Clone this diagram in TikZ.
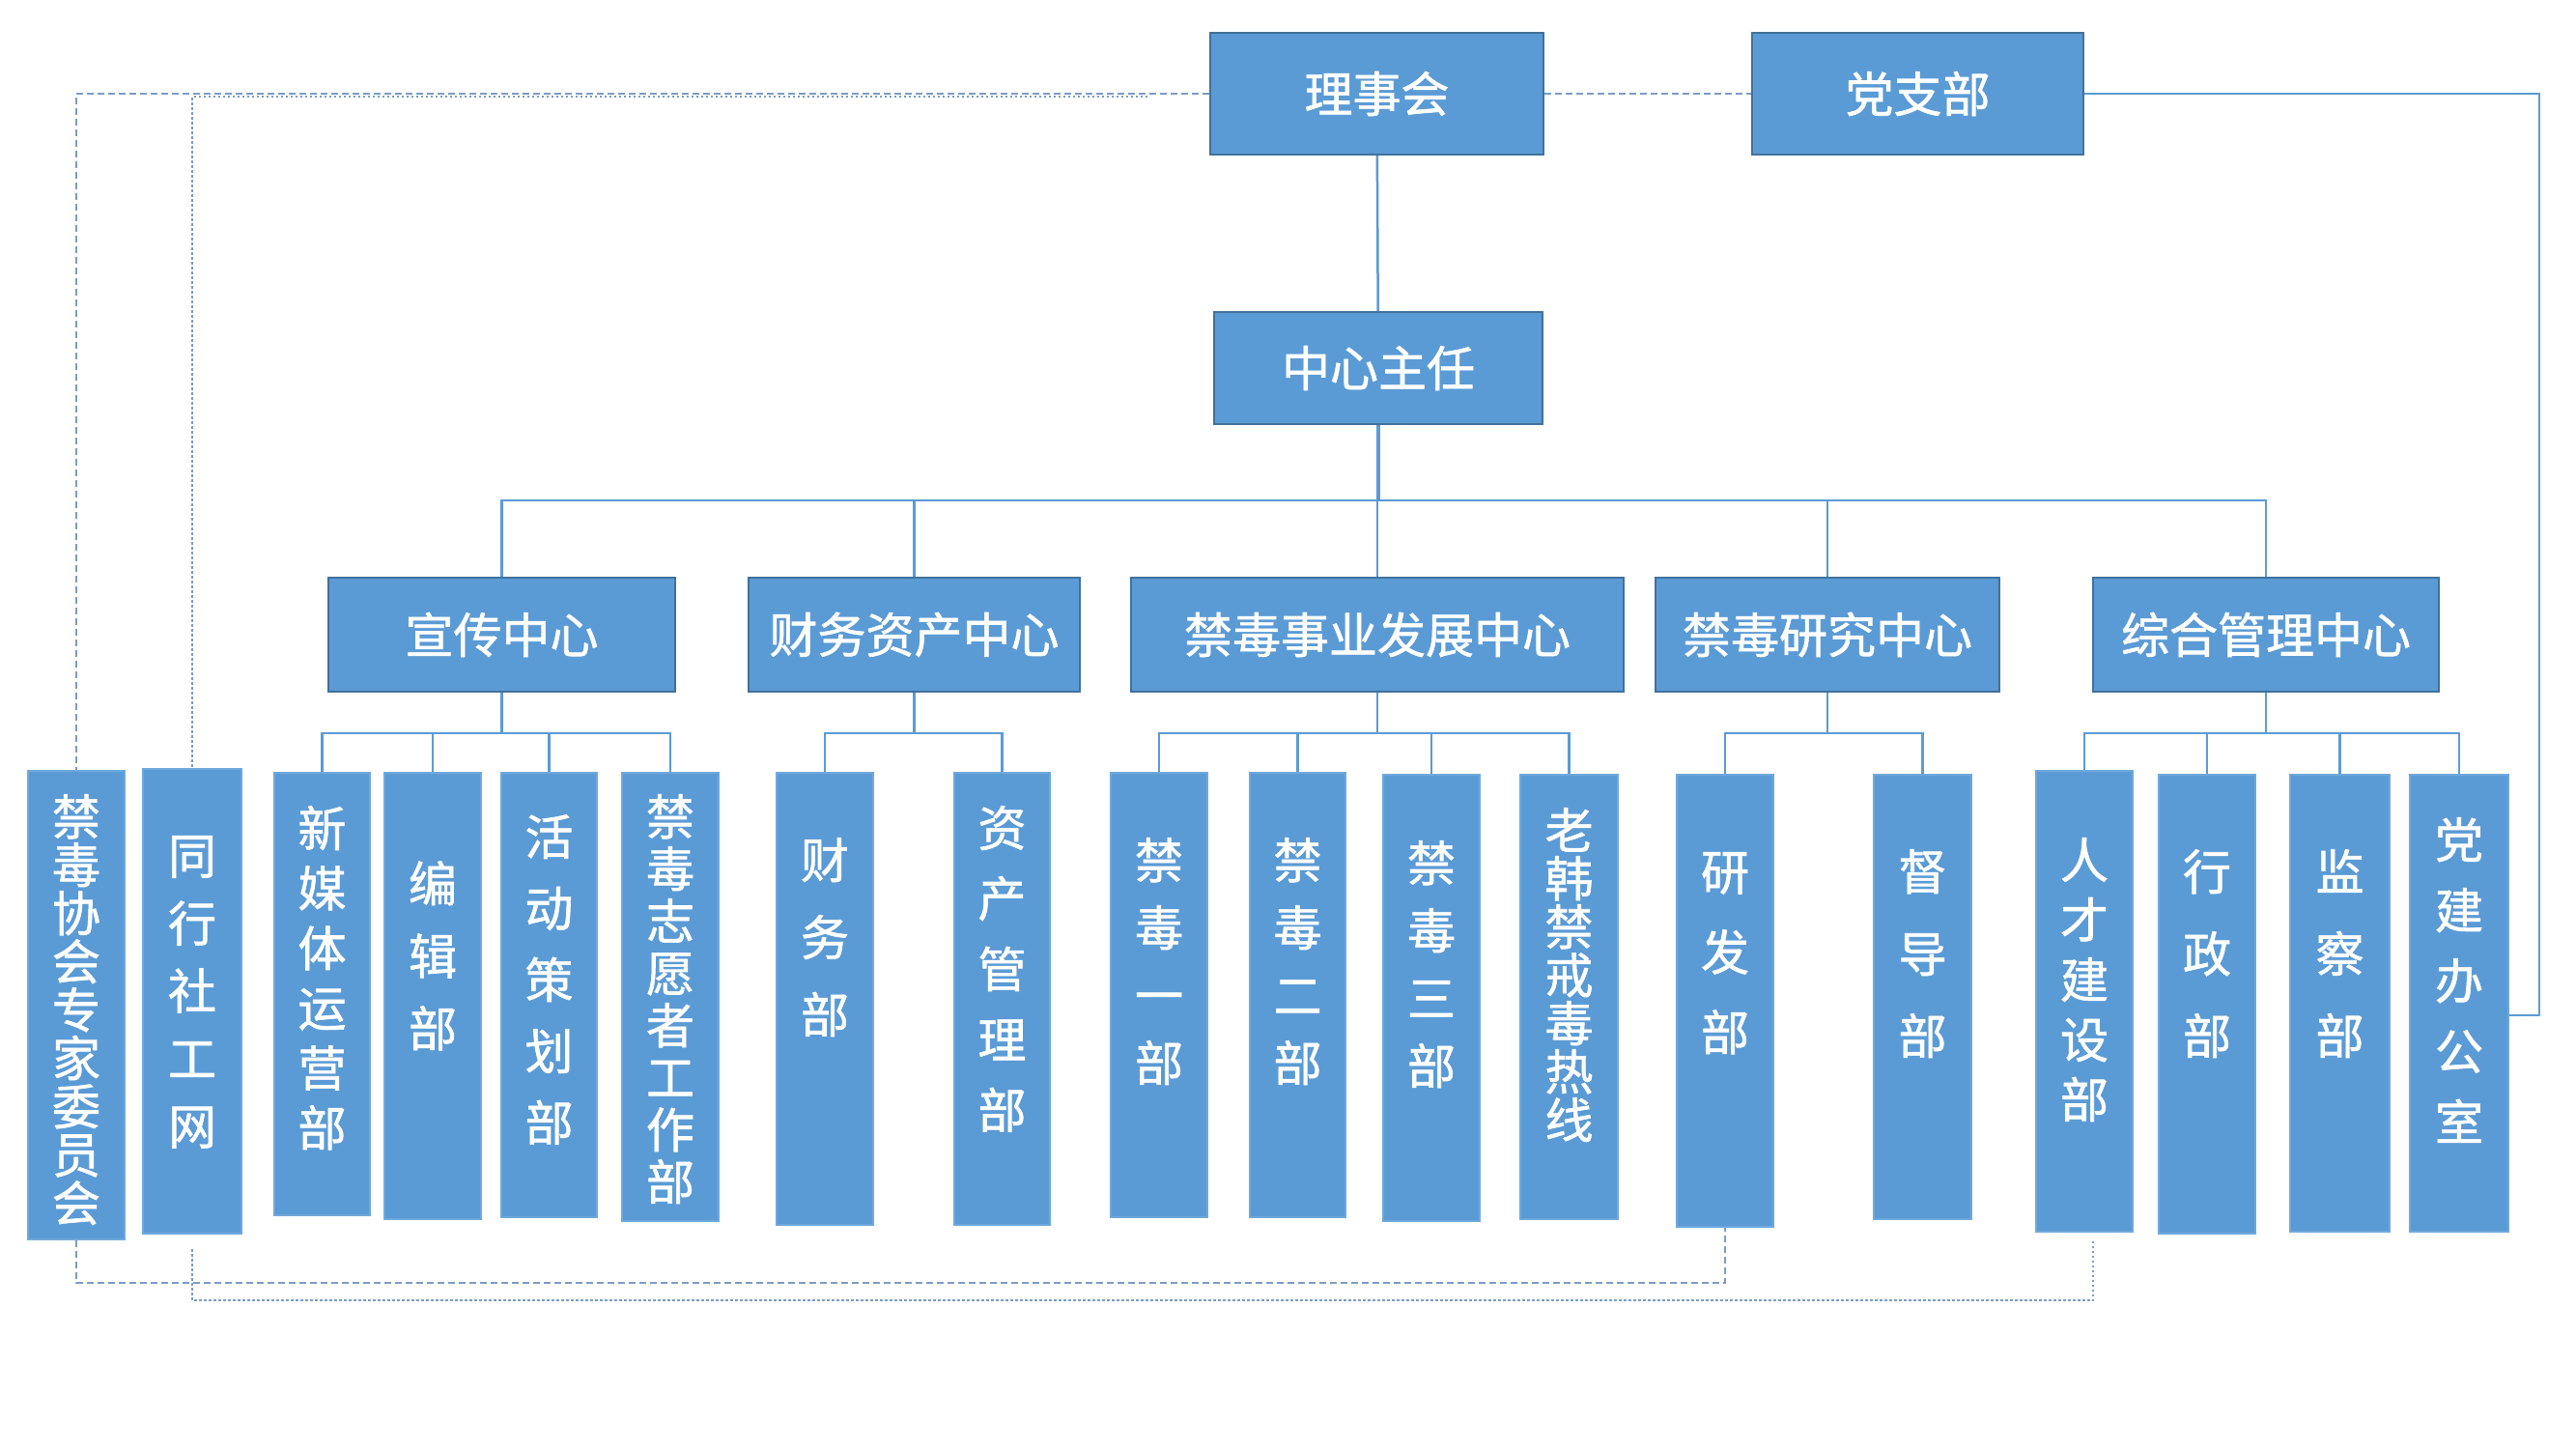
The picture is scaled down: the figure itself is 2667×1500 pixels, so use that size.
\documentclass[tikz,border=0pt]{standalone}
\usepackage{fontspec}
\newfontfamily\cjk[RawFeature={embolden=1.2}]{Noto Sans CJK SC}
\definecolor{boxblue}{HTML}{5B9BD5}
\definecolor{boxedge}{HTML}{41719C}
\definecolor{edgelight}{HTML}{6FA8DC}
\definecolor{linkblue}{HTML}{5B9BD5}
\definecolor{dashgray}{HTML}{7C9CC4}
\tikzset{
  topbox/.style={draw=boxedge, line width=2pt, fill=boxblue, text=white, inner sep=0pt,
    font=\cjk\fontsize{50}{60}\selectfont},
  deptbox/.style={draw=edgelight, line width=1.5pt, fill=boxblue, inner sep=0pt},
  vlabel/.style={text=white, inner sep=0pt, align=center},
  conn/.style={draw=linkblue, line width=2.5pt},
  dashlink/.style={draw=dashgray, line width=2.5pt, dash pattern=on 7pt off 4pt},
  dotlink/.style={draw=dashgray, line width=2.5pt, dash pattern=on 2.5pt off 2.5pt},
}
\newcommand\dept[8]{%
  \node[deptbox, minimum width=#4pt, minimum height=#5pt] (#1) at (#2,#3) {};
  \node[vlabel, anchor=north, font={\cjk\fontsize{50}{#7}\selectfont}] (#1-t) at (#2,#6) {#8};
}
\begin{document}
\begin{tikzpicture}[x=1pt,y=-1pt]
\useasboundingbox (0,0) rectangle (2667,1500);
\fill[white] (0,0) rectangle (2667,1500);

% top level
\node[topbox, minimum width=345pt, minimum height=126pt] (lsh) at (1425.5,97) {理事会};
\node[topbox, minimum width=343pt, minimum height=126pt] (dzb) at (1985.5,97) {党支部};
\node[topbox, minimum width=340pt, minimum height=116pt] (zr) at (1427,381) {中心主任};

% centres
\node[topbox, minimum width=359pt, minimum height=118pt] (xc) at (519.5,657) {宣传中心};
\node[topbox, minimum width=343pt, minimum height=118pt] (cz) at (946.5,657) {财务资产中心};
\node[topbox, minimum width=510pt, minimum height=118pt] (sy) at (1426,657) {禁毒事业发展中心};
\node[topbox, minimum width=356pt, minimum height=118pt] (yj) at (1892,657) {禁毒研究中心};
\node[topbox, minimum width=358pt, minimum height=118pt] (zh) at (2346,657) {综合管理中心};

% departments
\dept{xh}{79}{1040.5}{100}{485}{822}{50}{禁\\毒\\协\\会\\专\\家\\委\\员\\会}
\dept{tx}{199}{1036.5}{102}{481}{865}{70}{同\\行\\社\\工\\网}
\dept{xmt}{333.5}{1029}{99}{458}{834}{62}{新\\媒\\体\\运\\营\\部}
\dept{bj}{448}{1031}{100}{462}{891}{75}{编\\辑\\部}
\dept{hd}{568.5}{1030}{99}{460}{843}{74}{活\\动\\策\\划\\部}
\dept{zy}{694}{1032}{100}{464}{822}{54}{禁\\毒\\志\\愿\\者\\工\\作\\部}
\dept{cw}{854}{1034}{100}{468}{867}{80}{财\\务\\部}
\dept{zc}{1037.5}{1034}{99}{468}{834}{73}{资\\产\\管\\理\\部}
\dept{ja}{1200}{1030}{100}{460}{867}{70}{禁\\毒\\一\\部}
\dept{jb}{1343.5}{1030}{99}{460}{867}{70}{禁\\毒\\二\\部}
\dept{jd}{1482}{1033}{100}{462}{870}{70}{禁\\毒\\三\\部}
\dept{lh}{1624.5}{1032}{101}{460}{836}{50}{老\\韩\\禁\\戒\\毒\\热\\线}
\dept{yf}{1786}{1036}{100}{468}{882}{83}{研\\发\\部}
\dept{dd}{1990.5}{1032}{101}{460}{879}{85}{督\\导\\部}
\dept{rc}{2158}{1036.5}{100}{477}{867}{62}{人\\才\\建\\设\\部}
\dept{xz}{2285}{1039.5}{100}{475}{879}{85}{行\\政\\部}
\dept{jc}{2422.5}{1038.5}{103}{473}{879}{85}{监\\察\\部}
\dept{dj}{2546}{1038.5}{102}{473}{846}{73}{党\\建\\办\\公\\室}

% coordinates
\coordinate (bus) at (1427,518);
\coordinate (xcb) at (519.5,759);
\coordinate (czb) at (946.5,759);
\coordinate (syb) at (1426,759);
\coordinate (yjb) at (1892,759);
\coordinate (zhb) at (2346,759);
\coordinate (pr) at (2629,97);
\coordinate (pd) at (2629,1051);
\coordinate (o1) at (79,97);
\coordinate (o2) at (79,1328);
\coordinate (i0) at (1188,100);
\coordinate (i1) at (199,100);
\coordinate (i2a) at (199,1293);
\coordinate (i2) at (199,1346);
\coordinate (i3) at (2167,1346);
\coordinate (i3a) at (2167,1283);

% main tree
\draw[conn] (lsh) -- (zr);
\draw[conn, line width=3.5pt] (zr.south) -- (bus);
\foreach \c in {xc,cz,sy,yj,zh} \draw[conn] (bus) -| (\c.north);

\draw[conn] (xc.south) -- (xcb);
\foreach \c in {xmt,bj,hd,zy} \draw[conn] (xcb) -| (\c.north);
\draw[conn] (cz.south) -- (czb);
\foreach \c in {cw,zc} \draw[conn] (czb) -| (\c.north);
\draw[conn] (sy.south) -- (syb);
\foreach \c in {ja,jb,jd,lh} \draw[conn] (syb) -| (\c.north);
\draw[conn] (yj.south) -- (yjb);
\foreach \c in {yf,dd} \draw[conn] (yjb) -| (\c.north);
\draw[conn] (zh.south) -- (zhb);
\foreach \c in {rc,xz,jc,dj} \draw[conn] (zhb) -| (\c.north);

% party branch
\draw[dashlink] (lsh.east) -- (dzb.west);
\draw[conn] (dzb.east) -- (pr) -- (pd) -- (dj.east |- pd);

% dashed / dotted side links
\draw[dashlink] (lsh.west) -- (o1) -- (xh.north);
\draw[dashlink] (xh.south) -- (o2) -| (yf.south);
\draw[dotlink] (i0) -- (i1) -- (tx.north);
\draw[dotlink] (i2a) -- (i2) -- (i3) -- (i3a);
\end{tikzpicture}
\end{document}
